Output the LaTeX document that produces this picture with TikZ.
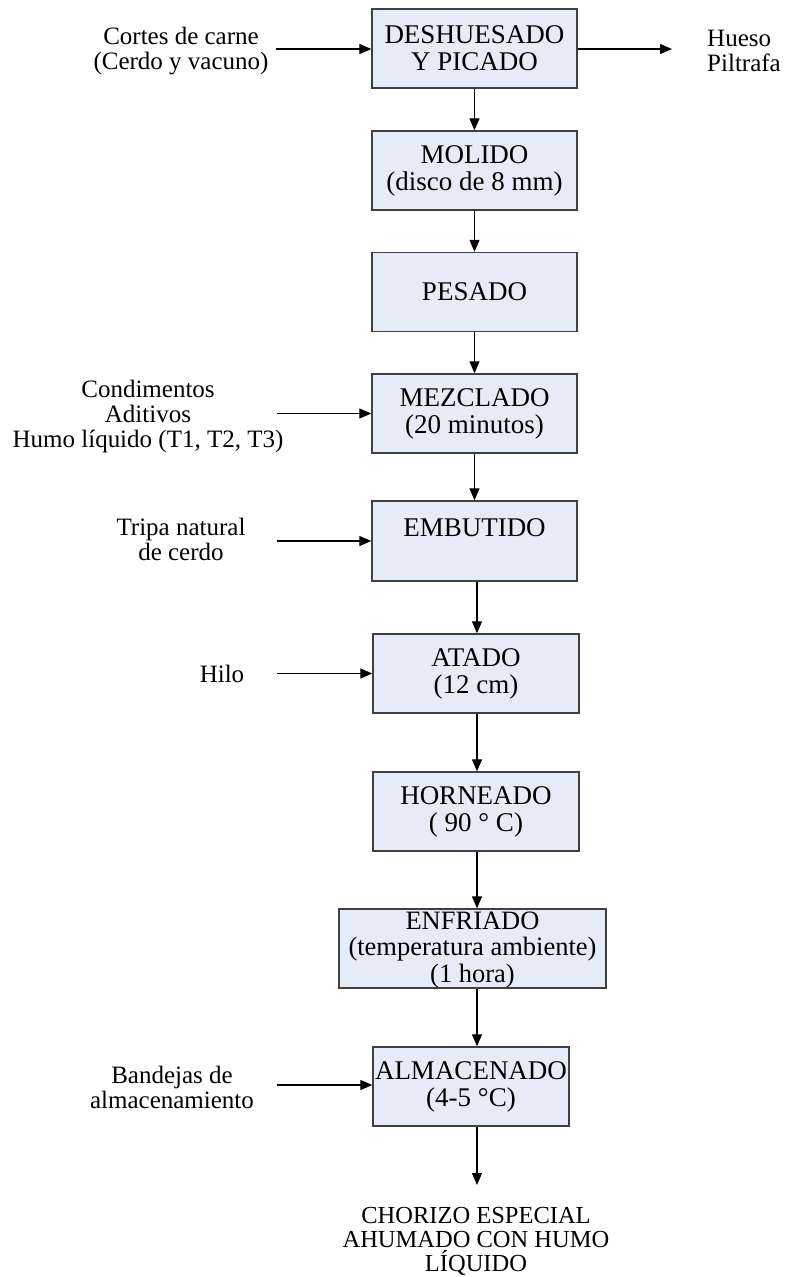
\documentclass[tikz,border=0pt]{standalone}
\usepackage{fontspec}
\setmainfont{Liberation Serif}
\usetikzlibrary{arrows.meta}
\definecolor{boxfill}{HTML}{E6ECF7}
\definecolor{boxline}{HTML}{404040}
\begin{document}
\begin{tikzpicture}[x=1pt,y=-1pt,
  proc/.style={draw=boxline, line width=1.4pt, fill=boxfill, minimum width=205pt,
    minimum height=79pt, align=center, inner sep=0pt, font=\fontsize{27}{27}\selectfont},
  lbl/.style={align=center, inner sep=0pt, font=\fontsize{25}{25}\selectfont},
  arr/.style={line width=1.2pt, -{Triangle[length=12pt,width=10pt]}}]
\useasboundingbox (0,0) rectangle (787,1277);

% process boxes
\node[proc] (d) at (474.5,48.5) {DESHUESADO\\Y PICADO};
\node[proc] (m) at (474.5,170.5) {MOLIDO\\(disco de 8 mm)};
\node[proc] (p) at (474.5,292) {PESADO};
\node[proc] (mz) at (474.5,413.5) {MEZCLADO\\(20 minutos)};
\node[proc, minimum height=0pt, text height=35pt, text depth=45pt] (e) at (474.5,541) {EMBUTIDO};
\node[proc, minimum width=206pt] (a) at (476,673.5) {ATADO\\(12 cm)};
\node[proc, minimum width=206pt] (h) at (476,811.5) {HORNEADO\\( 90 ° C)};
\node[proc, minimum width=267pt, minimum height=0pt, text height=73pt, text depth=6pt,
  font=\fontsize{26.5}{26.5}\selectfont] (en) at (472.5,948.5) {ENFRIADO\\(temperatura ambiente)\\(1 hora)};
\node[proc, minimum width=196pt] (al) at (471,1086.5) {ALMACENADO\\(4-5 °C)};

% side labels
\node[lbl] (in1) at (181,51) {Cortes de carne\\(Cerdo y vacuno)};
\node[lbl, align=left, anchor=west] (out1) at (707,51) {Hueso\\Piltrafa};
\node[lbl] (in4) at (148,416) {Condimentos\\Aditivos\\Humo líquido (T1, T2, T3)};
\node[lbl] (in5) at (181,539) {Tripa natural\\de cerdo};
\node[lbl] (in6) at (222,674) {Hilo};
\node[lbl] (in9) at (172,1087) {Bandejas de\\almacenamiento};
\node[lbl, font=\fontsize{24.5}{24}\selectfont] (fin) at (476,1241) {CHORIZO ESPECIAL\\AHUMADO CON HUMO\\LÍQUIDO};

% free ends
\coordinate (c1) at (276,49);
\coordinate (c2) at (672,49);
\coordinate (c4) at (277,413.5);
\coordinate (c5) at (277,541);
\coordinate (c6) at (277,673.5);
\coordinate (c9) at (277,1085);
\coordinate (cend) at (477,1185);

% connectors
\draw[arr] (c1) -- (c1 -| d.west);
\draw[arr] (c2 -| d.east) -- (c2);
\draw[arr] (c4) -- (c4 -| mz.west);
\draw[arr] (c5) -- (c5 -| e.west);
\draw[arr] (c6) -- (c6 -| a.west);
\draw[arr] (c9) -- (c9 -| al.west);

\draw[arr] (d.south) -- (d.south |- m.north);
\draw[arr] (m.south) -- (m.south |- p.north);
\draw[arr] (p.south) -- (p.south |- mz.north);
\draw[arr] (mz.south) -- (mz.south |- e.north);
\draw[arr] (cend |- e.south) -- (cend |- a.north);
\draw[arr] (cend |- a.south) -- (cend |- h.north);
\draw[arr] (cend |- h.south) -- (cend |- en.north);
\draw[arr] (cend |- en.south) -- (cend |- al.north);
\draw[arr] (cend |- al.south) -- (cend);
\end{tikzpicture}
\end{document}
